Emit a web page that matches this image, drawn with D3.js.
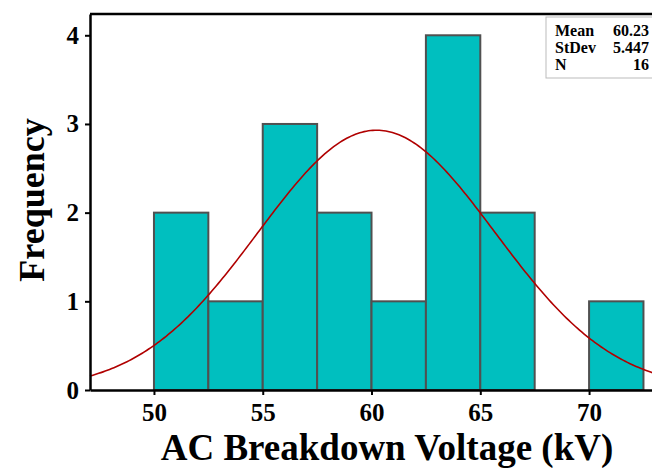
<!DOCTYPE html>
<html>
<head>
<meta charset="utf-8">
<script src="https://cdn.jsdelivr.net/npm/d3@7"></script>
<style>
  body { margin: 0; background: #fff; }
  text { font-family: "Liberation Serif", "Times New Roman", serif; font-weight: bold; }
</style>
</head>
<body>
<div id="chart"></div>
<script>
// histogram bins (kV) and counts
var binStarts = [50, 52.5, 55, 57.5, 60, 62.5, 65, 67.5, 70];
var binWidth = 2.5;
var counts = [2, 1, 3, 2, 1, 4, 2, 0, 1];
var xTicks = [50, 55, 60, 65, 70];
var yTicks = [0, 1, 2, 3, 4];
var statLabels = ["Mean", "StDev", "N"];
var statValues = ["60.23", "5.447", "16"];
var mean = 60.23, stdev = 5.447, n = 16;

const W = 652, H = 468;
const margin = { top: 14, right: -8, bottom: 78, left: 90 },
  width = W - margin.left - margin.right,
  height = H - margin.top - margin.bottom;

const svg = d3
  .select("#chart")
  .append("svg")
  .attr("width", W)
  .attr("height", H);

const g = svg.append("g").attr("transform", `translate(${margin.left}, ${margin.top})`);

const x = d3.scaleLinear().domain([47.06, 73.26]).range([0, width]);
const y = d3.scaleLinear().domain([0, 4.24]).range([height, 0]);

// bars
g.append("g")
  .selectAll("rect")
  .data(binStarts.map((b, i) => ({ x0: b, x1: b + binWidth, c: counts[i] })))
  .join("rect")
  .attr("x", (d) => x(d.x0))
  .attr("y", (d) => y(d.c))
  .attr("width", (d) => x(d.x1) - x(d.x0))
  .attr("height", (d) => y(0) - y(d.c))
  .style("fill", "#00bfbf")
  .style("stroke", "#505050")
  .style("stroke-width", 2);

// fitted normal curve, from the shown mean / stdev
var curveX = d3.range(x.domain()[0], x.domain()[1] + 0.1, 0.1);
var scaleK = n * binWidth / (stdev * Math.sqrt(2 * Math.PI));
var line = d3.line()
  .x((v) => x(v))
  .y((v) => y(scaleK * Math.exp(-0.5 * Math.pow((v - mean) / stdev, 2))));
g.append("path")
  .datum(curveX)
  .attr("d", line)
  .style("fill", "none")
  .style("stroke", "#b00000")
  .style("stroke-width", 1.6);

// axes
var xAxis = g.append("g")
  .attr("transform", `translate(0, ${height})`)
  .call(d3.axisBottom(x).tickValues(xTicks).tickSize(5).tickPadding(8).tickSizeOuter(0));
var yAxis = g.append("g")
  .call(d3.axisLeft(y).tickValues(yTicks).tickFormat(d3.format("d")).tickSize(5).tickPadding(6).tickSizeOuter(0));
[xAxis, yAxis].forEach(function (a) {
  a.select(".domain").style("stroke", "#000").style("stroke-width", 2.5);
  a.selectAll(".tick line").style("stroke", "#000").style("stroke-width", 2);
  a.selectAll(".tick text")
    .style("font-family", "'Liberation Serif', serif")
    .style("font-weight", "bold")
    .style("font-size", "25px")
    .style("fill", "#000");
});

// top frame line
g.append("line")
  .attr("x1", 0).attr("x2", width)
  .attr("y1", 0).attr("y2", 0)
  .style("stroke", "#000").style("stroke-width", 2.5);

// axis labels
svg.append("text")
  .attr("x", 387)
  .attr("y", 460)
  .attr("text-anchor", "middle")
  .style("font-size", "37px")
  .text("AC Breakdown Voltage (kV)");
svg.append("text")
  .attr("transform", "translate(44, 200) rotate(-90)")
  .attr("text-anchor", "middle")
  .style("font-size", "36px")
  .text("Frequency");

// stats box
var box = svg.append("g").attr("transform", "translate(546, 17)");
box.append("rect")
  .attr("width", 110).attr("height", 61)
  .style("fill", "#fff").style("stroke", "#bbb").style("stroke-width", 1);
box.selectAll(".lab")
  .data(statLabels)
  .join("text")
  .attr("x", 9)
  .attr("y", (d, i) => 19 + i * 17)
  .style("font-size", "16px")
  .text((d) => d);
box.selectAll(".val")
  .data(statValues)
  .join("text")
  .attr("x", 103)
  .attr("y", (d, i) => 19 + i * 17)
  .attr("text-anchor", "end")
  .style("font-size", "16px")
  .text((d) => d);
</script>
</body>
</html>
